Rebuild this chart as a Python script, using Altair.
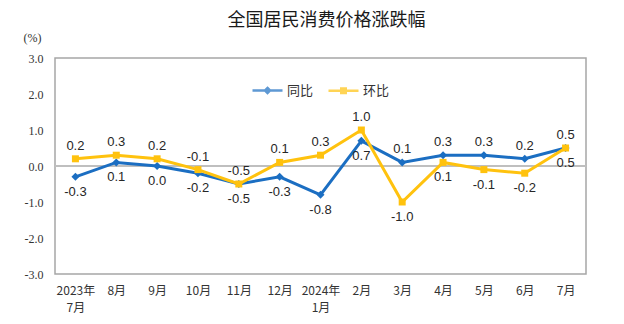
import altair as alt
import pandas as pd

months = ["2023年\n7月", "8月", "9月", "10月", "11月", "12月", "2024年\n1月",
          "2月", "3月", "4月", "5月", "6月", "7月"]
tongbi = [-0.3, 0.1, 0.0, -0.2, -0.5, -0.3, -0.8, 0.7, 0.1, 0.3, 0.3, 0.2, 0.5]
huanbi = [0.2, 0.3, 0.2, -0.1, -0.5, 0.1, 0.3, 1.0, -1.0, 0.1, -0.1, -0.2, 0.5]
y_ticks = [-3, -2, -1, 0, 1, 2, 3]
# label placement (above the point?)
tongbi_above = [False, False, False, False, False, False, False, False, True, True, True, True, True]
huanbi_above = [True, True, True, True, True, True, True, True, False, False, False, False, False]

series_names = ["同比", "环比"]
BLUE = "#1B6EC2"
YELLOW = "#FFC20E"

rows = []
for i, m in enumerate(months):
    rows.append({"month": m, "series": "同比", "value": tongbi[i], "above": tongbi_above[i]})
    rows.append({"month": m, "series": "环比", "value": huanbi[i], "above": huanbi_above[i]})
df = pd.DataFrame(rows)

x_enc = alt.X("month:N", sort=months,
              scale=alt.Scale(type="point", padding=0.5),
              axis=alt.Axis(title=None, labelAngle=0, ticks=False, domain=False,
                            labelExpr="split(datum.label, '\\n')",
                            labelFont="Noto Sans CJK SC", labelFontSize=12,
                            labelColor="#333333", labelPadding=11, labelLineHeight=17,
                            labelBaseline="top"))
y_enc = alt.Y("value:Q",
              scale=alt.Scale(domain=[-3, 3], nice=False, zero=False),
              axis=alt.Axis(values=y_ticks, tickCount=20, format=".1f", grid=False,
                            labelOverlap=False,
                            domain=False, ticks=False, labelPadding=12,
                            labelFont="Liberation Serif", labelFontSize=12,
                            labelColor="#333333",
                            title="(%)", titleAngle=0, titleX=-23, titleY=-21,
                            titleAlign="center", titleBaseline="middle",
                            titleFont="Liberation Serif", titleFontSize=12,
                            titleFontWeight="normal", titleColor="#333333"))

base = alt.Chart(df).encode(x=x_enc, y=y_enc)

zero = base.transform_filter("datum.series == '同比'").mark_rule(
    color="#BFBFBF", strokeWidth=1.5).encode(y=alt.datum(0), x=alt.value(0), x2=alt.value(531))

blue_line = base.transform_filter("datum.series == '同比'").mark_line(color=BLUE, strokeWidth=3)
blue_pts = base.transform_filter("datum.series == '同比'").mark_point(
    shape="diamond", filled=True, color=BLUE, size=64, opacity=1)
yel_line = base.transform_filter("datum.series == '环比'").mark_line(color=YELLOW, strokeWidth=3)
yel_pts = base.transform_filter("datum.series == '环比'").mark_point(
    shape="square", filled=True, color=YELLOW, size=49, opacity=1)

lbl_above = base.transform_filter("datum.above").mark_text(
    dy=-13, font="Liberation Sans", fontSize=13, color="#262626").encode(
    text=alt.Text("value:Q", format=".1f"))
lbl_below = base.transform_filter("!datum.above").mark_text(
    dy=15, font="Liberation Sans", fontSize=13, color="#262626").encode(
    text=alt.Text("value:Q", format=".1f"))

leg = alt.Legend(title=None, orient="none", legendX=206, legendY=26,
                 direction="horizontal", columns=2,
                 symbolSize=100, symbolStrokeWidth=2.5,
                 labelOffset=13, columnPadding=9,
                 labelFont="Noto Sans CJK SC", labelFontSize=13,
                 labelColor="#333333", padding=0)

legend_layer = base.transform_filter("false").mark_point(filled=False).encode(
    color=alt.Color("series:N",
                    scale=alt.Scale(domain=series_names, range=[BLUE, YELLOW]),
                    legend=leg),
    shape=alt.Shape("series:N",
                    scale=alt.Scale(domain=series_names,
                                    range=["M-3,0H3M0,-0.5L0.5,0L0,0.5L-0.5,0Z",
                                           "M-3,0H3M-0.45,-0.45H0.45V0.45H-0.45Z"]),
                    legend=leg),
)

chart = alt.layer(zero, blue_line, blue_pts, yel_line, yel_pts, lbl_above, lbl_below, legend_layer).properties(
    width=531, height=216,
    title=alt.TitleParams("全国居民消费价格涨跌幅", font="Noto Sans CJK SC", fontSize=18,
                          fontWeight="normal", color="#1a1a1a", anchor="middle",
                          frame="group", baseline="middle", offset=12, dy=20, dx=6),
    autosize=alt.AutoSizeParams(type="none"),
    padding={"left": 55, "top": 58, "right": 38, "bottom": 50},
    background="white",
).configure_view(stroke="#A6A6A6", strokeWidth=1.5).configure_axis(labelOverlap=False)

chart.save("out.html", embed_options={
    "renderer": "svg", "actions": False,
    "formatLocale": {"decimal": ".", "thousands": ",", "grouping": [3],
                     "currency": ["", ""], "minus": "-"}})
